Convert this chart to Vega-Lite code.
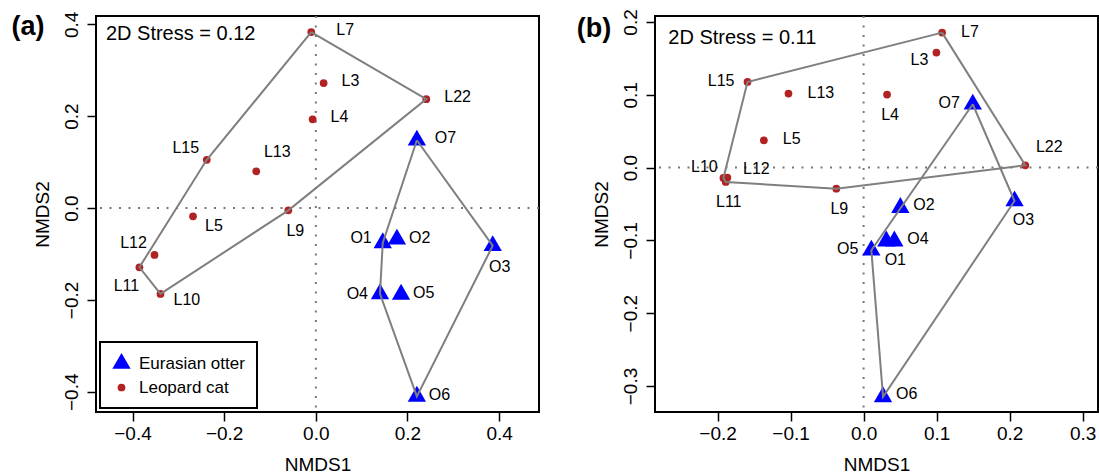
{
  "$schema": "https://vega.github.io/schema/vega-lite/v6.json",
  "background": "white",
  "padding": {"left": 10, "top": 7, "right": 0, "bottom": 0},
  "spacing": 116,
  "bounds": "flush",
  "config": {
    "font": "Liberation Sans",
    "view": {"stroke": "black", "strokeWidth": 2},
    "axis": {"domain": false, "grid": false, "tickColor": "black", "tickWidth": 1.5, "tickSize": 9, "labelFontSize": 19, "titleFontSize": 19, "titleFontWeight": "normal", "labelColor": "black", "titleColor": "black", "labelFont": "Liberation Sans", "titleFont": "Liberation Sans", "labelFlush": false, "labelOverlap": false},
    "axisX": {"labelPadding": 3, "titlePadding": 12},
    "axisY": {"labelAngle": -90, "labelAlign": "center", "labelBaseline": "bottom", "labelPadding": 6, "titlePadding": 10},
    "legend": {"orient": "bottom-left", "offset": 4, "padding": 12, "strokeColor": "black", "strokeWidth": 2, "fillColor": "white", "labelFontSize": 17, "labelFont": "Liberation Sans", "labelColor": "black", "rowPadding": 6, "symbolOpacity": 1, "labelOffset": 8, "symbolStrokeWidth": 0, "labelLimit": 300},
    "text": {"font": "Liberation Sans", "fontSize": 16, "color": "black"}
  },
  "datasets": {
    "pa": [
      {"id": "L3", "species": "Leopard cat", "x": 0.017, "y": 0.272},
      {"id": "L4", "species": "Leopard cat", "x": -0.007, "y": 0.193},
      {"id": "L5", "species": "Leopard cat", "x": -0.268, "y": -0.018},
      {"id": "L7", "species": "Leopard cat", "x": -0.010, "y": 0.383},
      {"id": "L9", "species": "Leopard cat", "x": -0.060, "y": -0.005},
      {"id": "L10", "species": "Leopard cat", "x": -0.339, "y": -0.187},
      {"id": "L11", "species": "Leopard cat", "x": -0.385, "y": -0.129},
      {"id": "L12", "species": "Leopard cat", "x": -0.352, "y": -0.102},
      {"id": "L13", "species": "Leopard cat", "x": -0.130, "y": 0.080},
      {"id": "L15", "species": "Leopard cat", "x": -0.238, "y": 0.105},
      {"id": "L22", "species": "Leopard cat", "x": 0.241, "y": 0.237},
      {"id": "O1", "species": "Eurasian otter", "x": 0.146, "y": -0.076},
      {"id": "O2", "species": "Eurasian otter", "x": 0.177, "y": -0.068},
      {"id": "O3", "species": "Eurasian otter", "x": 0.386, "y": -0.082},
      {"id": "O4", "species": "Eurasian otter", "x": 0.140, "y": -0.187},
      {"id": "O5", "species": "Eurasian otter", "x": 0.186, "y": -0.188},
      {"id": "O6", "species": "Eurasian otter", "x": 0.2205, "y": -0.410},
      {"id": "O7", "species": "Eurasian otter", "x": 0.2205, "y": 0.1475}
    ],
    "pb": [
      {"id": "L3", "species": "Leopard cat", "x": 0.0997, "y": 0.158},
      {"id": "L4", "species": "Leopard cat", "x": 0.0321, "y": 0.1003},
      {"id": "L5", "species": "Leopard cat", "x": -0.1366, "y": 0.0375},
      {"id": "L7", "species": "Leopard cat", "x": 0.1075, "y": 0.1854},
      {"id": "L9", "species": "Leopard cat", "x": -0.0374, "y": -0.0289},
      {"id": "L10", "species": "Leopard cat", "x": -0.192, "y": -0.0143},
      {"id": "L11", "species": "Leopard cat", "x": -0.1888, "y": -0.0198},
      {"id": "L12", "species": "Leopard cat", "x": -0.1866, "y": -0.0137},
      {"id": "L13", "species": "Leopard cat", "x": -0.1029, "y": 0.1016},
      {"id": "L15", "species": "Leopard cat", "x": -0.159, "y": 0.1176},
      {"id": "L22", "species": "Leopard cat", "x": 0.2214, "y": 0.0032},
      {"id": "O1", "species": "Eurasian otter", "x": 0.0311, "y": -0.101},
      {"id": "O2", "species": "Eurasian otter", "x": 0.0503, "y": -0.055},
      {"id": "O3", "species": "Eurasian otter", "x": 0.2067, "y": -0.0459},
      {"id": "O4", "species": "Eurasian otter", "x": 0.0421, "y": -0.101},
      {"id": "O5", "species": "Eurasian otter", "x": 0.0106, "y": -0.1136},
      {"id": "O6", "species": "Eurasian otter", "x": 0.0266, "y": -0.315},
      {"id": "O7", "species": "Eurasian otter", "x": 0.1495, "y": 0.087}
    ],
    "ha": [
      {"id": "L7", "grp": "L", "ord": 1}, {"id": "L22", "grp": "L", "ord": 2}, {"id": "L9", "grp": "L", "ord": 3},
      {"id": "L10", "grp": "L", "ord": 4}, {"id": "L11", "grp": "L", "ord": 5}, {"id": "L15", "grp": "L", "ord": 6},
      {"id": "L7", "grp": "L", "ord": 7},
      {"id": "O7", "grp": "O", "ord": 1}, {"id": "O3", "grp": "O", "ord": 2}, {"id": "O6", "grp": "O", "ord": 3},
      {"id": "O4", "grp": "O", "ord": 4}, {"id": "O1", "grp": "O", "ord": 5}, {"id": "O7", "grp": "O", "ord": 6}
    ],
    "hb": [
      {"id": "L7", "grp": "L", "ord": 1}, {"id": "L22", "grp": "L", "ord": 2}, {"id": "L9", "grp": "L", "ord": 3},
      {"id": "L11", "grp": "L", "ord": 4}, {"id": "L10", "grp": "L", "ord": 5}, {"id": "L15", "grp": "L", "ord": 6},
      {"id": "L7", "grp": "L", "ord": 7},
      {"id": "O7", "grp": "O", "ord": 1}, {"id": "O3", "grp": "O", "ord": 2}, {"id": "O6", "grp": "O", "ord": 3},
      {"id": "O5", "grp": "O", "ord": 4}, {"id": "O7", "grp": "O", "ord": 5}
    ]
  },
  "resolve": {
    "scale": {"x": "independent", "y": "independent", "color": "independent", "shape": "independent", "size": "independent"},
    "legend": {"color": "independent", "shape": "independent", "size": "independent"}
  },
  "hconcat": [
    {
      "width": 443, "height": 396,
      "data": {"name": "pa"},
      "layer": [
        {"data": {"values": [{}]}, "mark": {"type": "rule", "strokeDash": [2, 7.5], "color": "#777777", "strokeWidth": 2}, "encoding": {"x": {"datum": 0, "type": "quantitative", "scale": {"domain": [-0.4797, 0.487], "nice": false, "zero": false}}}},
        {"data": {"values": [{}]}, "mark": {"type": "rule", "strokeDash": [2, 7.5], "color": "#777777", "strokeWidth": 2}, "encoding": {"y": {"datum": 0, "type": "quantitative", "scale": {"domain": [-0.444, 0.418], "nice": false, "zero": false}}}},
        {"mark": {"type": "point", "filled": true, "opacity": 1, "strokeWidth": 0},
         "encoding": {
           "x": {"field": "x", "type": "quantitative", "scale": {"domain": [-0.4797, 0.487], "nice": false, "zero": false}, "axis": {"title": "NMDS1", "values": [-0.4, -0.2, 0, 0.2, 0.4], "format": ".1f"}},
           "y": {"field": "y", "type": "quantitative", "scale": {"domain": [-0.444, 0.418], "nice": false, "zero": false}, "axis": {"title": "NMDS2", "values": [-0.4, -0.2, 0, 0.2, 0.4], "format": ".1f"}},
           "shape": {"field": "species", "type": "nominal", "scale": {"domain": ["Eurasian otter", "Leopard cat"], "range": ["M-1,0.577L1,0.577L0,-1.155Z", "circle"]}, "legend": {"title": null, "labelExpr": "datum.label + '\u2003\u2003\u2003'"}},
           "color": {"field": "species", "type": "nominal", "scale": {"domain": ["Eurasian otter", "Leopard cat"], "range": ["#0000FF", "#B22222"]}, "legend": {"title": null, "labelExpr": "datum.label + '\u2003\u2003\u2003'"}},
           "size": {"field": "species", "type": "nominal", "scale": {"domain": ["Eurasian otter", "Leopard cat"], "range": [335, 60]}, "legend": {"title": null, "labelExpr": "datum.label + '\u2003\u2003\u2003'"}}
         }},
        {"data": {"name": "ha"}, "transform": [{"lookup": "id", "from": {"data": {"name": "pa"}, "key": "id", "fields": ["x", "y"]}}],
         "mark": {"type": "line", "color": "#7f7f7f", "strokeWidth": 2},
         "encoding": {
           "x": {"field": "x", "type": "quantitative", "scale": {"domain": [-0.4797, 0.487], "nice": false, "zero": false}},
           "y": {"field": "y", "type": "quantitative", "scale": {"domain": [-0.444, 0.418], "nice": false, "zero": false}},
           "detail": {"field": "grp"}, "order": {"field": "ord", "type": "quantitative"}
         }},
        {"transform": [{"filter": {"field": "id", "oneOf": ["L3", "L22", "L4", "O7"]}}], "mark": {"type": "text", "align": "left", "baseline": "middle", "dx": 18, "dy": -2},
         "encoding": {"x": {"field": "x", "type": "quantitative", "scale": {"domain": [-0.4797, 0.487], "nice": false, "zero": false}}, "y": {"field": "y", "type": "quantitative", "scale": {"domain": [-0.444, 0.418], "nice": false, "zero": false}}, "text": {"field": "id"}}},
        {"transform": [{"filter": {"field": "id", "oneOf": ["L7"]}}], "mark": {"type": "text", "align": "left", "baseline": "middle", "dx": 25, "dy": -2},
         "encoding": {"x": {"field": "x", "type": "quantitative", "scale": {"domain": [-0.4797, 0.487], "nice": false, "zero": false}}, "y": {"field": "y", "type": "quantitative", "scale": {"domain": [-0.444, 0.418], "nice": false, "zero": false}}, "text": {"field": "id"}}},
        {"transform": [{"filter": {"field": "id", "oneOf": ["O2", "O5", "O6"]}}], "mark": {"type": "text", "align": "left", "baseline": "middle", "dx": 12, "dy": -1},
         "encoding": {"x": {"field": "x", "type": "quantitative", "scale": {"domain": [-0.4797, 0.487], "nice": false, "zero": false}}, "y": {"field": "y", "type": "quantitative", "scale": {"domain": [-0.444, 0.418], "nice": false, "zero": false}}, "text": {"field": "id"}}},
        {"transform": [{"filter": {"field": "id", "oneOf": ["L10"]}}], "mark": {"type": "text", "align": "left", "baseline": "middle", "dx": 13, "dy": 6},
         "encoding": {"x": {"field": "x", "type": "quantitative", "scale": {"domain": [-0.4797, 0.487], "nice": false, "zero": false}}, "y": {"field": "y", "type": "quantitative", "scale": {"domain": [-0.444, 0.418], "nice": false, "zero": false}}, "text": {"field": "id"}}},
        {"transform": [{"filter": {"field": "id", "oneOf": ["O1"]}}], "mark": {"type": "text", "align": "right", "baseline": "middle", "dx": -11, "dy": -5},
         "encoding": {"x": {"field": "x", "type": "quantitative", "scale": {"domain": [-0.4797, 0.487], "nice": false, "zero": false}}, "y": {"field": "y", "type": "quantitative", "scale": {"domain": [-0.444, 0.418], "nice": false, "zero": false}}, "text": {"field": "id"}}},
        {"transform": [{"filter": {"field": "id", "oneOf": ["O4"]}}], "mark": {"type": "text", "align": "right", "baseline": "middle", "dx": -12, "dy": 0},
         "encoding": {"x": {"field": "x", "type": "quantitative", "scale": {"domain": [-0.4797, 0.487], "nice": false, "zero": false}}, "y": {"field": "y", "type": "quantitative", "scale": {"domain": [-0.444, 0.418], "nice": false, "zero": false}}, "text": {"field": "id"}}},
        {"transform": [{"filter": {"field": "id", "oneOf": ["L15", "L12"]}}], "mark": {"type": "text", "align": "center", "baseline": "middle", "dx": -21, "dy": -12},
         "encoding": {"x": {"field": "x", "type": "quantitative", "scale": {"domain": [-0.4797, 0.487], "nice": false, "zero": false}}, "y": {"field": "y", "type": "quantitative", "scale": {"domain": [-0.444, 0.418], "nice": false, "zero": false}}, "text": {"field": "id"}}},
        {"transform": [{"filter": {"field": "id", "oneOf": ["L13"]}}], "mark": {"type": "text", "align": "center", "baseline": "middle", "dx": 21, "dy": -19},
         "encoding": {"x": {"field": "x", "type": "quantitative", "scale": {"domain": [-0.4797, 0.487], "nice": false, "zero": false}}, "y": {"field": "y", "type": "quantitative", "scale": {"domain": [-0.444, 0.418], "nice": false, "zero": false}}, "text": {"field": "id"}}},
        {"transform": [{"filter": {"field": "id", "oneOf": ["L5"]}}], "mark": {"type": "text", "align": "center", "baseline": "middle", "dx": 21, "dy": 10},
         "encoding": {"x": {"field": "x", "type": "quantitative", "scale": {"domain": [-0.4797, 0.487], "nice": false, "zero": false}}, "y": {"field": "y", "type": "quantitative", "scale": {"domain": [-0.444, 0.418], "nice": false, "zero": false}}, "text": {"field": "id"}}},
        {"transform": [{"filter": {"field": "id", "oneOf": ["L9", "O3"]}}], "mark": {"type": "text", "align": "center", "baseline": "middle", "dx": 7, "dy": 21},
         "encoding": {"x": {"field": "x", "type": "quantitative", "scale": {"domain": [-0.4797, 0.487], "nice": false, "zero": false}}, "y": {"field": "y", "type": "quantitative", "scale": {"domain": [-0.444, 0.418], "nice": false, "zero": false}}, "text": {"field": "id"}}},
        {"transform": [{"filter": {"field": "id", "oneOf": ["L11"]}}], "mark": {"type": "text", "align": "center", "baseline": "middle", "dx": -13, "dy": 19},
         "encoding": {"x": {"field": "x", "type": "quantitative", "scale": {"domain": [-0.4797, 0.487], "nice": false, "zero": false}}, "y": {"field": "y", "type": "quantitative", "scale": {"domain": [-0.444, 0.418], "nice": false, "zero": false}}, "text": {"field": "id"}}},
        {"data": {"values": [{"label": "2D Stress = 0.12"}]}, "mark": {"type": "text", "align": "left", "baseline": "middle", "fontSize": 20},
         "encoding": {"x": {"datum": -0.458, "type": "quantitative", "scale": {"domain": [-0.4797, 0.487], "nice": false, "zero": false}}, "y": {"datum": 0.378, "type": "quantitative", "scale": {"domain": [-0.444, 0.418], "nice": false, "zero": false}}, "text": {"field": "label"}}},
        {"data": {"values": [{"label": "(a)"}]}, "mark": {"type": "text", "align": "left", "baseline": "middle", "fontSize": 27, "fontWeight": "bold"},
         "encoding": {"x": {"datum": -0.664, "type": "quantitative", "scale": {"domain": [-0.4797, 0.487], "nice": false, "zero": false}}, "y": {"datum": 0.394, "type": "quantitative", "scale": {"domain": [-0.444, 0.418], "nice": false, "zero": false}}, "text": {"field": "label"}}}
      ]
    },
    {
      "width": 443, "height": 396,
      "data": {"name": "pb"},
      "layer": [
        {"data": {"values": [{}]}, "mark": {"type": "rule", "strokeDash": [2, 7.5], "color": "#777777", "strokeWidth": 2}, "encoding": {"x": {"datum": 0, "type": "quantitative", "scale": {"domain": [-0.2857, 0.321], "nice": false, "zero": false}}}},
        {"data": {"values": [{}]}, "mark": {"type": "rule", "strokeDash": [2, 7.5], "color": "#777777", "strokeWidth": 2}, "encoding": {"y": {"datum": 0, "type": "quantitative", "scale": {"domain": [-0.3357, 0.2082], "nice": false, "zero": false}}}},
        {"mark": {"type": "point", "filled": true, "opacity": 1, "strokeWidth": 0},
         "encoding": {
           "x": {"field": "x", "type": "quantitative", "scale": {"domain": [-0.2857, 0.321], "nice": false, "zero": false}, "axis": {"title": "NMDS1", "values": [-0.2, -0.1, 0, 0.1, 0.2, 0.3], "format": ".1f"}},
           "y": {"field": "y", "type": "quantitative", "scale": {"domain": [-0.3357, 0.2082], "nice": false, "zero": false}, "axis": {"title": "NMDS2", "values": [-0.3, -0.2, -0.1, 0, 0.1, 0.2], "format": ".1f"}},
           "shape": {"field": "species", "type": "nominal", "scale": {"domain": ["Eurasian otter", "Leopard cat"], "range": ["M-1,0.577L1,0.577L0,-1.155Z", "circle"]}, "legend": null},
           "color": {"field": "species", "type": "nominal", "scale": {"domain": ["Eurasian otter", "Leopard cat"], "range": ["#0000FF", "#B22222"]}, "legend": null},
           "size": {"field": "species", "type": "nominal", "scale": {"domain": ["Eurasian otter", "Leopard cat"], "range": [335, 60]}, "legend": null}
         }},
        {"data": {"name": "hb"}, "transform": [{"lookup": "id", "from": {"data": {"name": "pb"}, "key": "id", "fields": ["x", "y"]}}],
         "mark": {"type": "line", "color": "#7f7f7f", "strokeWidth": 2},
         "encoding": {
           "x": {"field": "x", "type": "quantitative", "scale": {"domain": [-0.2857, 0.321], "nice": false, "zero": false}},
           "y": {"field": "y", "type": "quantitative", "scale": {"domain": [-0.3357, 0.2082], "nice": false, "zero": false}},
           "detail": {"field": "grp"}, "order": {"field": "ord", "type": "quantitative"}
         }},
        {"transform": [{"filter": {"field": "id", "oneOf": ["L7", "L13", "L5"]}}], "mark": {"type": "text", "align": "left", "baseline": "middle", "dx": 19, "dy": -1},
         "encoding": {"x": {"field": "x", "type": "quantitative", "scale": {"domain": [-0.2857, 0.321], "nice": false, "zero": false}}, "y": {"field": "y", "type": "quantitative", "scale": {"domain": [-0.3357, 0.2082], "nice": false, "zero": false}}, "text": {"field": "id"}}},
        {"transform": [{"filter": {"field": "id", "oneOf": ["O2", "O4", "O6"]}}], "mark": {"type": "text", "align": "left", "baseline": "middle", "dx": 13, "dy": -2.5},
         "encoding": {"x": {"field": "x", "type": "quantitative", "scale": {"domain": [-0.2857, 0.321], "nice": false, "zero": false}}, "y": {"field": "y", "type": "quantitative", "scale": {"domain": [-0.3357, 0.2082], "nice": false, "zero": false}}, "text": {"field": "id"}}},
        {"transform": [{"filter": {"field": "id", "oneOf": ["L4", "L11", "L9"]}}], "mark": {"type": "text", "align": "center", "baseline": "middle", "dx": 3, "dy": 20},
         "encoding": {"x": {"field": "x", "type": "quantitative", "scale": {"domain": [-0.2857, 0.321], "nice": false, "zero": false}}, "y": {"field": "y", "type": "quantitative", "scale": {"domain": [-0.3357, 0.2082], "nice": false, "zero": false}}, "text": {"field": "id"}}},
        {"transform": [{"filter": {"field": "id", "oneOf": ["O3", "O1"]}}], "mark": {"type": "text", "align": "center", "baseline": "middle", "dx": 9, "dy": 19},
         "encoding": {"x": {"field": "x", "type": "quantitative", "scale": {"domain": [-0.2857, 0.321], "nice": false, "zero": false}}, "y": {"field": "y", "type": "quantitative", "scale": {"domain": [-0.3357, 0.2082], "nice": false, "zero": false}}, "text": {"field": "id"}}},
        {"transform": [{"filter": {"field": "id", "oneOf": ["L15", "O7", "O5"]}}], "mark": {"type": "text", "align": "right", "baseline": "middle", "dx": -13, "dy": -1},
         "encoding": {"x": {"field": "x", "type": "quantitative", "scale": {"domain": [-0.2857, 0.321], "nice": false, "zero": false}}, "y": {"field": "y", "type": "quantitative", "scale": {"domain": [-0.3357, 0.2082], "nice": false, "zero": false}}, "text": {"field": "id"}}},
        {"transform": [{"filter": {"field": "id", "oneOf": ["L3"]}}], "mark": {"type": "text", "align": "right", "baseline": "middle", "dx": -8, "dy": 7},
         "encoding": {"x": {"field": "x", "type": "quantitative", "scale": {"domain": [-0.2857, 0.321], "nice": false, "zero": false}}, "y": {"field": "y", "type": "quantitative", "scale": {"domain": [-0.3357, 0.2082], "nice": false, "zero": false}}, "text": {"field": "id"}}},
        {"transform": [{"filter": {"field": "id", "oneOf": ["L22"]}}], "mark": {"type": "text", "align": "center", "baseline": "middle", "dx": 24, "dy": -18},
         "encoding": {"x": {"field": "x", "type": "quantitative", "scale": {"domain": [-0.2857, 0.321], "nice": false, "zero": false}}, "y": {"field": "y", "type": "quantitative", "scale": {"domain": [-0.3357, 0.2082], "nice": false, "zero": false}}, "text": {"field": "id"}}},
        {"transform": [{"filter": {"field": "id", "oneOf": ["L10"]}}], "mark": {"type": "text", "align": "center", "baseline": "middle", "dx": -19, "dy": -11},
         "encoding": {"x": {"field": "x", "type": "quantitative", "scale": {"domain": [-0.2857, 0.321], "nice": false, "zero": false}}, "y": {"field": "y", "type": "quantitative", "scale": {"domain": [-0.3357, 0.2082], "nice": false, "zero": false}}, "text": {"field": "id"}}},
        {"transform": [{"filter": {"field": "id", "oneOf": ["L12"]}}], "mark": {"type": "text", "align": "center", "baseline": "middle", "dx": 29, "dy": -9},
         "encoding": {"x": {"field": "x", "type": "quantitative", "scale": {"domain": [-0.2857, 0.321], "nice": false, "zero": false}}, "y": {"field": "y", "type": "quantitative", "scale": {"domain": [-0.3357, 0.2082], "nice": false, "zero": false}}, "text": {"field": "id"}}},
        {"data": {"values": [{"label": "2D Stress = 0.11"}]}, "mark": {"type": "text", "align": "left", "baseline": "middle", "fontSize": 20},
         "encoding": {"x": {"datum": -0.2675, "type": "quantitative", "scale": {"domain": [-0.2857, 0.321], "nice": false, "zero": false}}, "y": {"datum": 0.1786, "type": "quantitative", "scale": {"domain": [-0.3357, 0.2082], "nice": false, "zero": false}}, "text": {"field": "label"}}},
        {"data": {"values": [{"label": "(b)"}]}, "mark": {"type": "text", "align": "left", "baseline": "middle", "fontSize": 27, "fontWeight": "bold"},
         "encoding": {"x": {"datum": -0.393, "type": "quantitative", "scale": {"domain": [-0.2857, 0.321], "nice": false, "zero": false}}, "y": {"datum": 0.191, "type": "quantitative", "scale": {"domain": [-0.3357, 0.2082], "nice": false, "zero": false}}, "text": {"field": "label"}}}
      ]
    }
  ]
}
